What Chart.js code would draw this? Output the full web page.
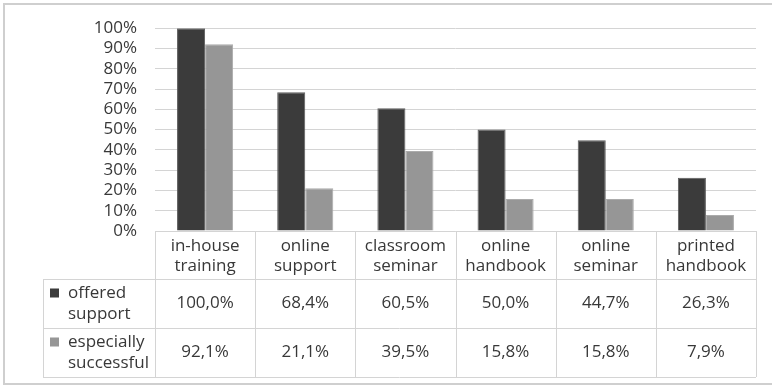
<!DOCTYPE html>
<html>
<head>
<meta charset="utf-8">
<script src="https://cdn.jsdelivr.net/npm/chart.js@4/dist/chart.umd.min.js"></script>
<style>
  html, body { margin: 0; padding: 0; background: #ffffff; }
  canvas { display: block; }
</style>
</head>
<body>
<canvas id="chart" width="772" height="386"></canvas>
<script>
// Kinds of support, each label split over two lines
const categories = [
  ["in-house", "training"],
  ["online", "support"],
  ["classroom", "seminar"],
  ["online", "handbook"],
  ["online", "seminar"],
  ["printed", "handbook"]
];
const seriesNames = [
  ["offered", "support"],
  ["especially", "successful"]
];
// Shares in percent
const offeredSupport = [100.0, 68.4, 60.5, 50.0, 44.7, 26.3];
const especiallySuccessful = [92.1, 21.1, 39.5, 15.8, 15.8, 7.9];
const yTicks = [0, 10, 20, 30, 40, 50, 60, 70, 80, 90, 100];

const FONT = "'Open Sans', 'DejaVu Sans', sans-serif";
const TEXT = "#383838";
const LINE = "#d4d4d4";
const seriesColors = ["#3b3b3b", "#969696"];
const seriesBorders = ["#5c5c5c", "#ababab"];

const fmt = v => v.toFixed(1).replace(".", ",") + "%";

// Draws the frame and the data table below the category row
const dataTable = {
  id: "dataTable",
  afterDraw(chart) {
    const ctx = chart.ctx;
    const area = chart.chartArea;
    const xs = chart.scales.x;
    const n = categories.length;
    const step = (area.right - area.left) / n;
    const headTop = area.bottom;
    const headBottom = xs.bottom;
    const rowH = 49;
    const legendLeft = 43;
    const rows = [offeredSupport, especiallySuccessful];
    const tableBottom = headBottom + rowH * rows.length;

    ctx.save();
    // outer frame
    ctx.strokeStyle = "#cfcfcf";
    ctx.lineWidth = 2;
    ctx.strokeRect(4, 4, 780, 380);

    ctx.strokeStyle = LINE;
    ctx.lineWidth = 1;
    ctx.beginPath();
    const hl = (x1, x2, y) => { ctx.moveTo(x1, Math.round(y) + 0.5); ctx.lineTo(x2, Math.round(y) + 0.5); };
    const vl = (x, y1, y2) => { ctx.moveTo(Math.round(x) + 0.5, y1); ctx.lineTo(Math.round(x) + 0.5, y2); };
    // horizontal lines
    hl(area.left, area.right, headTop);
    hl(legendLeft, area.right, headBottom);
    for (let r = 1; r <= rows.length; r++) hl(legendLeft, area.right, headBottom + rowH * r);
    // vertical lines
    for (let i = 0; i <= n; i++) vl(area.left + step * i, headTop, tableBottom);
    vl(legendLeft, headBottom, tableBottom);
    ctx.stroke();

    ctx.font = "17px " + FONT;
    ctx.textBaseline = "middle";
    rows.forEach((vals, r) => {
      const cy = headBottom + rowH * r + rowH / 2;
      // legend cell
      ctx.fillStyle = seriesColors[r];
      ctx.fillRect(50, cy - 15, 9, 9);
      ctx.fillStyle = TEXT;
      ctx.textAlign = "left";
      ctx.fillText(seriesNames[r][0], 68, cy - 10.5);
      ctx.fillText(seriesNames[r][1], 68, cy + 10.5);
      // values
      ctx.textAlign = "center";
      vals.forEach((v, i) => {
        ctx.fillText(fmt(v), xs.getPixelForValue(i), cy);
      });
    });
    ctx.restore();
  }
};

new Chart(document.getElementById("chart"), {
  type: "bar",
  data: {
    labels: categories,
    datasets: [
      {
        label: seriesNames[0].join(" "),
        data: offeredSupport,
        backgroundColor: seriesColors[0],
        borderColor: seriesBorders[0],
        borderWidth: 1,
        categoryPercentage: 0.56,
        barPercentage: 1.0
      },
      {
        label: seriesNames[1].join(" "),
        data: especiallySuccessful,
        backgroundColor: seriesColors[1],
        borderColor: seriesBorders[1],
        borderWidth: 1,
        categoryPercentage: 0.56,
        barPercentage: 1.0
      }
    ]
  },
  options: {
    responsive: false,
    animation: false,
    devicePixelRatio: 1,
    layout: { padding: { left: 0, right: 16, top: 26, bottom: 107 } },
    plugins: {
      legend: { display: false },
      tooltip: { enabled: false }
    },
    scales: {
      x: {
        grid: { display: false },
        border: { display: false },
        ticks: {
          color: TEXT,
          font: { family: FONT, size: 17 },
          padding: -3,
          maxRotation: 0,
          autoSkip: false
        },
        afterFit(scale) { scale.height = 48; }
      },
      y: {
        min: 0,
        max: 100,
        afterBuildTicks(scale) { scale.ticks = yTicks.map(v => ({ value: v })); },
        ticks: {
          color: TEXT,
          font: { family: FONT, size: 17 },
          padding: 18,
          autoSkip: false,
          callback: v => v + "%"
        },
        grid: { color: LINE, drawTicks: false, lineWidth: 1 },
        border: { display: false },
        afterFit(scale) { scale.width = 155; }
      }
    }
  },
  plugins: [dataTable]
});
</script>
</body>
</html>
